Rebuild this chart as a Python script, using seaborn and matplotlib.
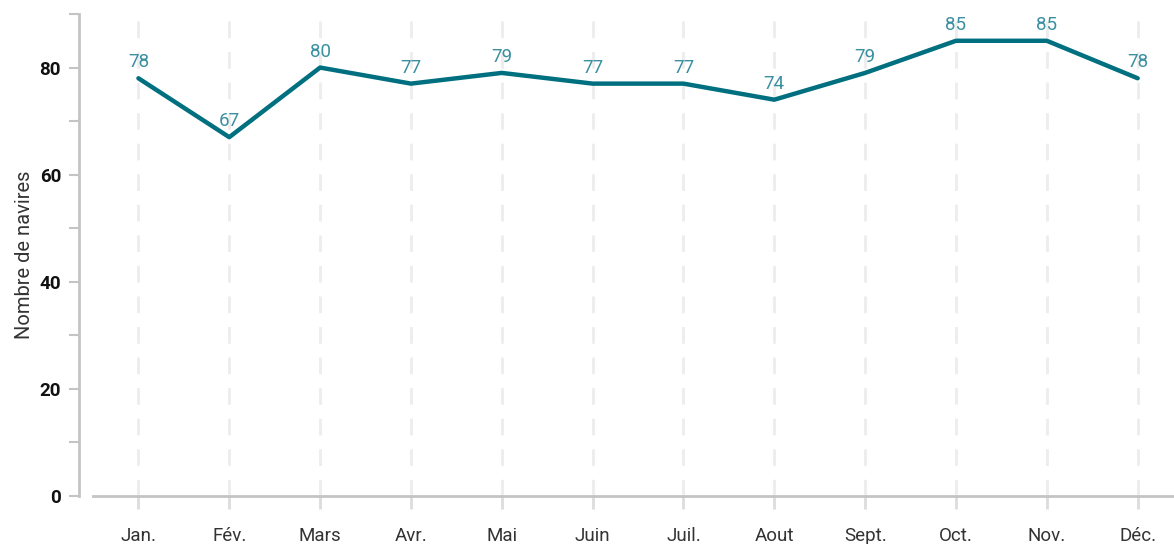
import numpy as np
import pandas as pd
import matplotlib
matplotlib.use("Agg")
import matplotlib.pyplot as plt
import seaborn as sns

mois = ["Jan.", "Fév.", "Mars", "Avr.", "Mai", "Juin", "Juil.", "Aout", "Sept.", "Oct.", "Nov.", "Déc."]
navires = [78, 67, 80, 77, 79, 77, 77, 74, 79, 85, 85, 78]

df = pd.DataFrame({"mois": mois, "navires": navires})

sns.set_style("white")
plt.rcParams["font.family"] = ["Roboto", "DejaVu Sans"]

line_col = "#007080"
label_col = "#3a8fa0"
axis_col = "#c4c4c4"

fig = plt.figure(figsize=(11.74, 5.44), dpi=100)
ax = fig.add_axes([93 / 1174, 48 / 544, 1 - 93 / 1174, (496 - 14) / 544])

for s in ["top", "right"]:
    ax.spines[s].set_visible(False)
ax.spines["left"].set_position(("outward", 10))
ax.spines["left"].set_color(axis_col)
ax.spines["left"].set_linewidth(2)
ax.spines["bottom"].set_color(axis_col)
ax.spines["bottom"].set_linewidth(2)

# dashed vertical guides
for i in range(len(mois)):
    ax.axvline(i, color="#ededed", lw=2, ls=(0, (6, 5)), zorder=0)

sns.lineplot(data=df, x="mois", y="navires", sort=False, color=line_col, lw=3.2, ax=ax, zorder=3)

for i, v in enumerate(navires):
    ax.annotate(str(v), (i, v), xytext=(0, 5), textcoords="offset points",
                ha="center", va="bottom", color=label_col, fontsize=13.5, zorder=4)

ax.set_xlim(-0.5, 11.4)
ax.set_ylim(0, 90)
ax.set_yticks([0, 20, 40, 60, 80])
ax.set_yticks(np.arange(10, 100, 20), minor=True)
ax.set_yticklabels(["0", "20", "40", "60", "80"], fontweight="bold", fontsize=13.5, color="#111111")
ax.set_xticks(range(len(mois)))
ax.set_xticklabels(mois, fontsize=13.5, color="#333333")

ax.tick_params(axis="y", which="both", length=7, width=1.5, color=axis_col, pad=6, left=True)
ax.tick_params(axis="x", length=9, width=2, color="#dcdcdc", pad=13, bottom=True)

ax.set_xlabel("")
ax.set_ylabel("Nombre de navires", fontsize=14.5, color="#333333", labelpad=4)

fig.savefig("out.png", dpi=100)
